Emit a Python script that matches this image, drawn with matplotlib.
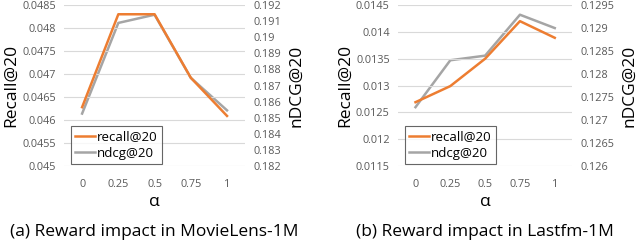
import matplotlib
matplotlib.use("Agg")
import matplotlib.pyplot as plt
import numpy as np

plt.rcParams['font.family'] = ['Open Sans', 'DejaVu Sans']

alpha_labels = ['0', '0.25', '0.5', '0.75', '1']

# MovieLens-1M
ml_recall = [0.04628, 0.0483, 0.0483, 0.04692, 0.04609]
ml_ndcg = [0.18526, 0.19089, 0.1914, 0.18748, 0.18546]
ml_recall_ticks = [0.045, 0.0455, 0.046, 0.0465, 0.047, 0.0475, 0.048, 0.0485]
ml_recall_labels = ['0.045', '0.0455', '0.046', '0.0465', '0.047', '0.0475', '0.048', '0.0485']
ml_ndcg_ticks = [0.182, 0.183, 0.184, 0.185, 0.186, 0.187, 0.188, 0.189, 0.19, 0.191, 0.192]
ml_ndcg_labels = ['0.182', '0.183', '0.184', '0.185', '0.186', '0.187', '0.188', '0.189', '0.19', '0.191', '0.192']

# Lastfm-1M
lf_recall = [0.01269, 0.01299, 0.0135, 0.0142, 0.01389]
lf_ndcg = [0.12728, 0.1283, 0.1284, 0.12929, 0.1290]
lf_recall_ticks = [0.0115, 0.012, 0.0125, 0.013, 0.0135, 0.014, 0.0145]
lf_recall_labels = ['0.0115', '0.012', '0.0125', '0.013', '0.0135', '0.014', '0.0145']
lf_ndcg_ticks = [0.126, 0.1265, 0.127, 0.1275, 0.128, 0.1285, 0.129, 0.1295]
lf_ndcg_labels = ['0.126', '0.1265', '0.127', '0.1275', '0.128', '0.1285', '0.129', '0.1295']

captions = ['(a) Reward impact in MovieLens-1M', '(b) Reward impact in Lastfm-1M']

ORANGE = '#ED7D31'
GRAY = '#A5A5A5'
TICK_COLOR = '#595959'

fig = plt.figure(figsize=(6.4, 2.41), dpi=100)


def draw_panel(rect, recall, ndcg, rticks, rlabels, nticks, nlabels, caption):
    ax = fig.add_axes(rect)
    x = np.arange(len(alpha_labels))
    ax.plot(x, recall, color=ORANGE, lw=1.8, label='recall@20')
    ax.set_xlim(-0.5, len(alpha_labels) - 0.5)
    ax.set_ylim(rticks[0], rticks[-1])
    ax.set_yticks(rticks)
    ax.set_yticklabels(rlabels)
    ax.set_xticks(x)
    ax.set_xticklabels(alpha_labels)
    ax.grid(axis='y', color='#D9D9D9', lw=0.8)
    ax.set_axisbelow(True)
    for s in ax.spines.values():
        s.set_visible(False)
    ax.tick_params(length=0, labelsize=7.8, colors=TICK_COLOR, pad=6)
    ax.tick_params(axis='x', pad=9)
    ax.set_ylabel('Recall@20', fontsize=12.5, labelpad=2)
    ax.set_xlabel('α', fontsize=12.5, labelpad=3)

    ax2 = ax.twinx()
    ax2.plot(x, ndcg, color=GRAY, lw=1.8, label='ndcg@20')
    ax2.set_ylim(nticks[0], nticks[-1])
    ax2.set_yticks(nticks)
    ax2.set_yticklabels(nlabels)
    for s in ax2.spines.values():
        s.set_visible(False)
    ax2.tick_params(length=0, labelsize=7.8, colors=TICK_COLOR, pad=6)
    ax2.set_ylabel('nDCG@20', fontsize=12.5, labelpad=5)

    # recall drawn on top of ndcg
    ax.set_zorder(ax2.get_zorder() + 1)
    ax.patch.set_visible(False)

    h1, l1 = ax.get_legend_handles_labels()
    h2, l2 = ax2.get_legend_handles_labels()
    leg = ax.legend(h1 + h2, l1 + l2, loc='lower left', bbox_to_anchor=(0.03, 0.0),
                    fontsize=9.5, frameon=True, fancybox=False, handlelength=1.5,
                    handletextpad=0.15, borderpad=0.3, labelspacing=0.3, borderaxespad=0.15)
    leg.get_frame().set_edgecolor('#404040')
    leg.get_frame().set_linewidth(0.8)

    fig.text(rect[0] + rect[2] / 2, 0.005, caption, ha='center', va='bottom', fontsize=12.5)


draw_panel([0.1, 0.311, 0.283, 0.668], ml_recall, ml_ndcg, ml_recall_ticks, ml_recall_labels,
           ml_ndcg_ticks, ml_ndcg_labels, captions[0])
draw_panel([0.622, 0.311, 0.272, 0.668], lf_recall, lf_ndcg, lf_recall_ticks, lf_recall_labels,
           lf_ndcg_ticks, lf_ndcg_labels, captions[1])

fig.savefig('out.png', dpi=100)
